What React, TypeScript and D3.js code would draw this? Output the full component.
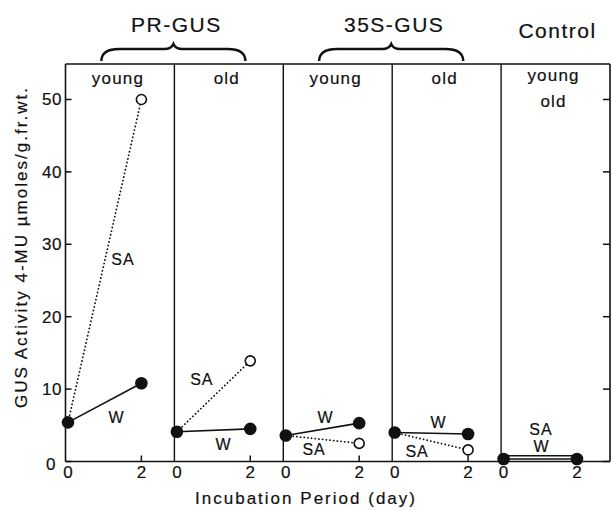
import React from 'react';
import * as d3 from 'd3';

// panels along the x axis, each with incubation day 0 and 2
const panels = ['PR-GUS young', 'PR-GUS old', '35S-GUS young', '35S-GUS old', 'Control'];
const panelLabels = [['young'], ['old'], ['young'], ['old'], ['young', 'old']];
const groupNames = ['PR-GUS', '35S-GUS', 'Control'];
const groupPanels = [[0, 1], [2, 3], [4]];
const days = [0, 2];
const wValues = [[5.4, 10.8], [4.1, 4.5], [3.6, 5.3], [4.0, 3.8], [0.35, 0.35]];
const saValues = [[5.4, 50], [4.1, 13.9], [3.6, 2.5], [4.0, 1.6], [0.8, 0.8]];
const saDotted = [true, true, true, true, false];
const yTicks = [0, 10, 20, 30, 40, 50];
// where the "SA" / "W" tags sit, as [day, value]
const saTagPos = [[1.5, 27.1], [0.68, 10.6], [0.77, 0.9], [0.61, 0.6], [1.02, 3.7]];
const wTagPos = [[1.31, 5.3], [1.26, 1.6], [1.07, 5.3], [1.18, 4.6], [1.02, 1.3]];

const W = 612, H = 510;
const left = 65.5, right = 610, top = 64, bottom = 461.5;
const font = '"Liberation Sans", Arial, Helvetica, sans-serif';
const ink = '#111';

function bracePath(x1: number, x2: number, yb: number, yt: number) {
  const xc = (x1 + x2) / 2;
  const ym = yt + 5;
  return `M${x1},${yb} Q${x1},${ym} ${x1 + 18},${ym} L${xc - 9},${ym} Q${xc - 2},${ym} ${xc},${yt} ` +
    `Q${xc + 2},${ym} ${xc + 9},${ym} L${x2 - 18},${ym} Q${x2},${ym} ${x2},${yb}`;
}

export default function App() {
  const y = d3.scaleLinear().domain([0, 54.9]).range([bottom, top]);
  const band = d3.scaleBand<string>().domain(panels).range([left, right]).padding(0);
  const bw = band.bandwidth();
  const dx = d3.scaleLinear().domain([0, 2.9]).range([2.5, bw]);
  const px = (i: number, d: number) => (band(panels[i]) as number) + dx(d);
  const line = d3.line<[number, number]>().x(d => d[0]).y(d => y(d[1]));
  const txt = { fill: ink, stroke: ink, strokeWidth: 0.2 };

  return (
    <svg width={W} height={H} style={{ position: 'absolute', left: 0, top: 0, background: '#fff' }}
      fontFamily={font}>
      {/* frame */}
      <line x1={left} x2={right} y1={top} y2={top} stroke={ink} strokeWidth={1.6} />
      <line x1={left} x2={right} y1={bottom} y2={bottom} stroke={ink} strokeWidth={1.6} />
      <line x1={left} x2={left} y1={top} y2={bottom} stroke={ink} strokeWidth={1.6} />
      <line x1={right} x2={right} y1={top} y2={bottom} stroke={ink} strokeWidth={1.6} />
      {panels.slice(1).map(p => (
        <line key={p} x1={band(p)} x2={band(p)} y1={top} y2={bottom} stroke={ink} strokeWidth={1.4} />
      ))}

      {/* y ticks, both sides */}
      {yTicks.map(t => (
        <g key={t}>
          <line x1={left} x2={left + 6} y1={y(t)} y2={y(t)} stroke={ink} strokeWidth={1.5} />
          <line x1={right - 7} x2={right} y1={y(t)} y2={y(t)} stroke={ink} strokeWidth={1.5} />
          <text x={t === 0 ? 56 : 62} y={y(t) + (t === 0 ? 8 : 6)} textAnchor="end" fontSize={17}
            letterSpacing={0.5} {...txt}>{t}</text>
        </g>
      ))}

      {/* x ticks and labels */}
      {panels.map((p, i) => (
        <g key={p}>
          <line x1={px(i, 2)} x2={px(i, 2)} y1={bottom} y2={bottom - 6} stroke={ink} strokeWidth={1.5} />
          {days.map(d => (
            <text key={d} x={px(i, d)} y={478} textAnchor="middle" fontSize={17} {...txt}>{d}</text>
          ))}
        </g>
      ))}

      {/* panel labels */}
      {panels.map((p, i) => panelLabels[i].map((lab, j) => (
        <text key={p + lab} x={(band(p) as number) + bw / 2 - 2} y={(i === 4 ? 81 : 84) + j * 26}
          textAnchor="middle" fontSize={17} letterSpacing={1.2} {...txt}>{lab}</text>
      )))}

      {/* group titles and braces */}
      {groupNames.map((g, k) => {
        const ps = groupPanels[k];
        const cx = ps.length > 1 ? (band(panels[ps[1]]) as number) : (band(panels[ps[0]]) as number) + bw / 2;
        return (
          <g key={g}>
            <text x={cx + 2} y={ps.length > 1 ? 32 : 38} textAnchor="middle" fontSize={21} letterSpacing={1.5}
              {...txt}>{g}</text>
            {ps.length > 1 && (
              <path d={bracePath(cx - 73, cx + 71, 61, 44)} fill="none" stroke={ink} strokeWidth={2.4} />
            )}
          </g>
        );
      })}

      {/* series */}
      {panels.map((p, i) => {
        const sa = days.map((d, j) => [px(i, d), saValues[i][j]] as [number, number]);
        const w = days.map((d, j) => [px(i, d), wValues[i][j]] as [number, number]);
        return (
          <g key={p}>
            <path d={line(sa) as string} fill="none" stroke={ink} strokeWidth={saDotted[i] ? 1.8 : 1.5}
              strokeDasharray={saDotted[i] ? '0.1 3.6' : undefined} strokeLinecap="round" />
            {i < 4 && (
              <circle cx={sa[1][0]} cy={y(sa[1][1])} r={5} fill="#fff" stroke={ink} strokeWidth={1.6} />
            )}
            <path d={line(w) as string} fill="none" stroke={ink} strokeWidth={1.6} />
            {w.map((pt, j) => (
              <circle key={j} cx={pt[0]} cy={y(pt[1])} r={6.3} fill={ink} />
            ))}
            <text x={px(i, saTagPos[i][0])} y={y(saTagPos[i][1])} textAnchor="middle" fontSize={16}
              letterSpacing={1} {...txt}>SA</text>
            <text x={px(i, wTagPos[i][0])} y={y(wTagPos[i][1])} textAnchor="middle" fontSize={16}
              {...txt}>W</text>
          </g>
        );
      })}

      {/* axis titles */}
      <text transform="translate(27,248) rotate(-90)" textAnchor="middle" fontSize={17}
        textLength={320} lengthAdjust="spacing" {...txt}>
        GUS Activity 4-MU µmoles/g.fr.wt.
      </text>
      <text x={305} y={504} textAnchor="middle" fontSize={17} textLength={220} lengthAdjust="spacing"
        {...txt}>Incubation Period (day)</text>
    </svg>
  );
}
